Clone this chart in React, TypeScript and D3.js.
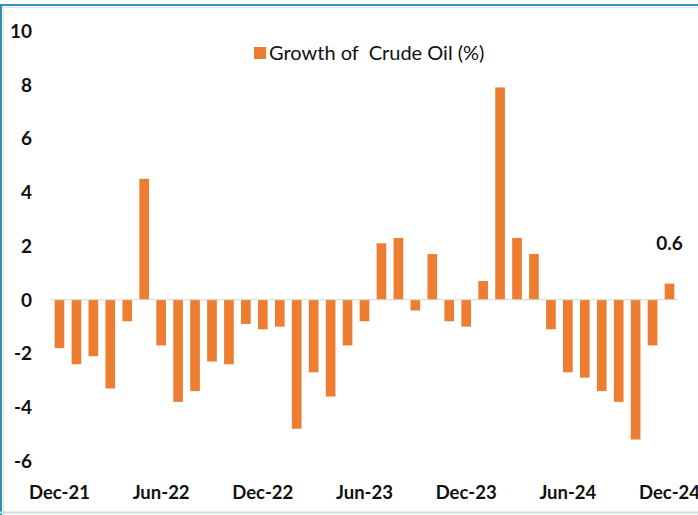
import React from "react";
import * as d3 from "d3";

// monthly growth of crude oil output, Dec-21 .. Dec-24
const months = [
  "Dec-21", "Jan-22", "Feb-22", "Mar-22", "Apr-22", "May-22", "Jun-22",
  "Jul-22", "Aug-22", "Sep-22", "Oct-22", "Nov-22", "Dec-22",
  "Jan-23", "Feb-23", "Mar-23", "Apr-23", "May-23", "Jun-23",
  "Jul-23", "Aug-23", "Sep-23", "Oct-23", "Nov-23", "Dec-23",
  "Jan-24", "Feb-24", "Mar-24", "Apr-24", "May-24", "Jun-24",
  "Jul-24", "Aug-24", "Sep-24", "Oct-24", "Nov-24", "Dec-24",
];
const growth = [
  -1.8, -2.4, -2.1, -3.3, -0.8, 4.5, -1.7,
  -3.8, -3.4, -2.3, -2.4, -0.9, -1.1,
  -1.0, -4.8, -2.7, -3.6, -1.7, -0.8,
  2.1, 2.3, -0.4, 1.7, -0.8, -1.0,
  0.7, 7.9, 2.3, 1.7, -1.1, -2.7,
  -2.9, -3.4, -3.8, -5.2, -1.7, 0.6,
];
const xTickLabels = ["Dec-21", "Jun-22", "Dec-22", "Jun-23", "Dec-23", "Jun-24", "Dec-24"];
const yTicks = [-6, -4, -2, 0, 2, 4, 6, 8, 10];
const legendLabel = "Growth of\u00a0 Crude Oil (%)";
const lastLabel = "0.6";

const W = 698;
const H = 515;
const orange = "#ED7D31";
const font = "Lato, 'Open Sans', sans-serif";

export default function App() {
  const x = d3.scaleBand<string>().domain(months).range([51, 678]).paddingInner(0.43).paddingOuter(0.215);
  const y = d3.scaleLinear().domain([-6, 10]).range([461, 31]);

  const last = months[months.length - 1];

  return (
    <svg
      width={W}
      height={H}
      style={{ position: "absolute", left: 0, top: 0, background: "#fff" }}
    >
      {/* frame */}
      <line x1={0} x2={W} y1={5} y2={5} stroke="#2E93B0" strokeWidth={2} />
      <line x1={0} x2={W} y1={7.5} y2={7.5} stroke="#e2e2e2" strokeWidth={1} />
      <line x1={1} x2={1} y1={4} y2={H} stroke="#2E93B0" strokeWidth={2} />
      <line x1={3.5} x2={3.5} y1={7} y2={H} stroke="#e2e2e2" strokeWidth={1} />
      <line x1={0} x2={W} y1={512.5} y2={512.5} stroke="#c6e1ea" strokeWidth={2} />

      {/* y axis labels */}
      {yTicks.map((t) => (
        <text
          key={t}
          x={32}
          y={y(t)}
          dy="0.36em"
          textAnchor="end"
          fontFamily={font}
          fontWeight={700}
          fontSize={19}
          fill="#111"
        >
          {t}
        </text>
      ))}

      {/* bars */}
      {months.map((m, i) => {
        const v = growth[i];
        return (
          <rect
            key={m}
            x={x(m)}
            width={x.bandwidth()}
            y={v >= 0 ? y(v) : y(0)}
            height={Math.abs(y(v) - y(0))}
            fill={orange}
          />
        );
      })}

      {/* zero line */}
      <line x1={51} x2={678} y1={y(0)} y2={y(0)} stroke="#d4d4d4" strokeWidth={1.2} />

      {/* x labels */}
      {xTickLabels.map((l) => (
        <text
          key={l}
          x={(x(l) ?? 0) + x.bandwidth() / 2}
          y={499}
          textAnchor="middle"
          fontFamily={font}
          fontWeight={700}
          fontSize={18.5}
          fill="#111"
        >
          {l}
        </text>
      ))}

      {/* data label for last bar */}
      <text
        x={(x(last) ?? 0) + x.bandwidth() / 2}
        y={y(growth[growth.length - 1]) - 34}
        textAnchor="middle"
        fontFamily={font}
        fontWeight={700}
        fontSize={19}
        fill="#111"
      >
        {lastLabel}
      </text>

      {/* legend */}
      <rect x={254} y={47} width={12} height={12} fill={orange} />
      <text x={269} y={60} fontFamily={font} fontSize={20} fill="#111">
        {legendLabel}
      </text>
    </svg>
  );
}
